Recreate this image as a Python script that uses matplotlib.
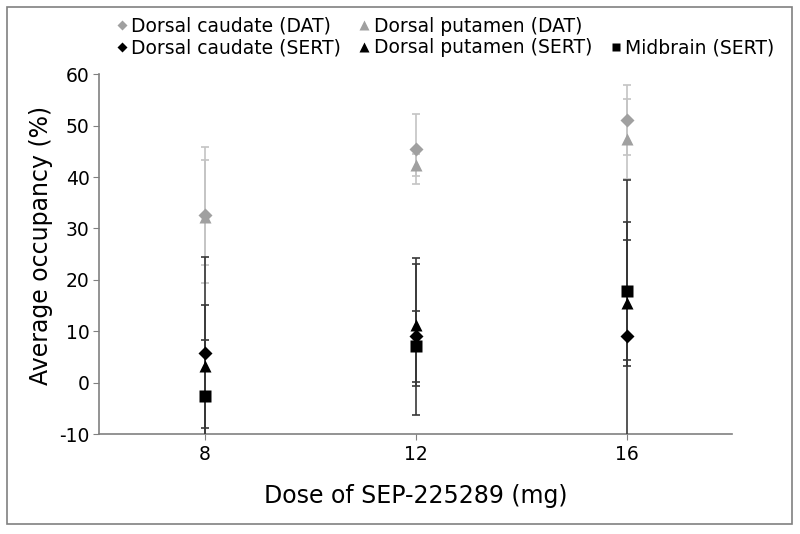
import numpy as np
import matplotlib
matplotlib.use("Agg")
import matplotlib.pyplot as plt
from matplotlib.lines import Line2D
from matplotlib.patches import Rectangle
from matplotlib.ticker import FuncFormatter

# doses (mg)
doses = [8, 12, 16]

# DAT occupancy (%)
caudate_dat = [32.6, 45.4, 51.1]
caudate_dat_err = [13.3, 6.8, 6.8]
putamen_dat = [32.3, 42.3, 47.4]
putamen_dat_lo = [9.4, 2.1, 7.7]
putamen_dat_hi = [11.0, 2.1, 7.7]

# SERT occupancy (%)
caudate_sert = [5.7, 9.0, 9.1]
caudate_sert_err = [18.8, 15.2, 30.3]
putamen_sert = [3.2, 11.2, 15.5]
putamen_sert_err = [12.0, 11.9, 12.2]
midbrain_sert = [-2.6, 7.1, 17.8]
midbrain_sert_err = [11.0, 6.9, 13.4]

yticks = [-10, 0, 10, 20, 30, 40, 50, 60]

GRAY_MK = "#a0a0a0"
GRAY_ERR = "#c4c4c4"
BLACK_ERR = "#383838"
AXC = "#808080"

plt.rcParams['font.family'] = ['DejaVu Sans']

fig = plt.figure(figsize=(8, 5.34), dpi=100)
ax = fig.add_axes([0.124, 0.187, 0.791, 0.674])

eb = dict(fmt='none', capsize=3, elinewidth=1.2, capthick=1.2)
ax.errorbar(doses, caudate_dat, yerr=caudate_dat_err, ecolor=GRAY_ERR, zorder=2, **eb)
ax.errorbar(doses, putamen_dat, yerr=[putamen_dat_lo, putamen_dat_hi], ecolor=GRAY_ERR, zorder=2, **eb)
ax.errorbar(doses, caudate_sert, yerr=caudate_sert_err, ecolor=BLACK_ERR, zorder=3, **eb)
ax.errorbar(doses, putamen_sert, yerr=putamen_sert_err, ecolor=BLACK_ERR, zorder=3, **eb)
ax.errorbar(doses, midbrain_sert, yerr=midbrain_sert_err, ecolor=BLACK_ERR, zorder=3, **eb)

ax.plot(doses, caudate_dat, 'D', color=GRAY_MK, ms=7, mec='none', zorder=5)
ax.plot(doses, putamen_dat, '^', color=GRAY_MK, ms=9, mec='none', zorder=5)
ax.plot(doses, caudate_sert, 'D', color='black', ms=7, mec='none', zorder=6)
ax.plot(doses, putamen_sert, '^', color='black', ms=9, mec='none', zorder=6)
ax.plot(doses, midbrain_sert, 's', color='black', ms=8, mec='none', zorder=6)

ax.set_xlim(6, 18)
ax.set_ylim(-10, 60)
ax.set_xticks(doses)
ax.set_yticks(yticks)
ax.yaxis.set_major_formatter(FuncFormatter(lambda v, p: "%d" % v))
ax.tick_params(axis='both', direction='out', length=4, color=AXC, labelsize=13.5)
ax.tick_params(axis='x', pad=4)
ax.tick_params(axis='y', pad=3)
for s in ['top', 'right']:
    ax.spines[s].set_visible(False)
for s in ['left', 'bottom']:
    ax.spines[s].set_color(AXC)
    ax.spines[s].set_linewidth(1.2)

ax.set_xlabel("Dose of SEP-225289 (mg)", fontsize=17)
ax.set_ylabel("Average occupancy (%)", fontsize=17)
ax.xaxis.set_label_coords(0.5, -0.138)
ax.yaxis.set_label_coords(-0.073, 0.525)

# legend: 2 entries in first row, 3 in second
blank = Line2D([], [], linestyle='none', marker=None)
handles = [
    Line2D([], [], ls='none', marker='D', color=GRAY_MK, ms=5.5, mec='none'),
    Line2D([], [], ls='none', marker='D', color='black', ms=5.5, mec='none'),
    Line2D([], [], ls='none', marker='^', color=GRAY_MK, ms=7.5, mec='none'),
    Line2D([], [], ls='none', marker='^', color='black', ms=7.5, mec='none'),
    blank,
    Line2D([], [], ls='none', marker='s', color='black', ms=6, mec='none'),
]
labels = ["Dorsal caudate (DAT)", "Dorsal caudate (SERT)",
          "Dorsal putamen (DAT)", "Dorsal putamen (SERT)",
          "", "Midbrain (SERT)"]
fig.legend(handles, labels, ncol=3, loc='upper left', bbox_to_anchor=(0.137, 0.983),
           frameon=False, fontsize=13.5, handlelength=0.5, handletextpad=0.25,
           columnspacing=1.0, labelspacing=0.15, borderaxespad=0)

fig.patches.append(Rectangle((0.009, 0.018), 0.981, 0.968, transform=fig.transFigure,
                             fill=False, edgecolor=AXC, linewidth=1.2))

fig.savefig("out.png", dpi=100)
